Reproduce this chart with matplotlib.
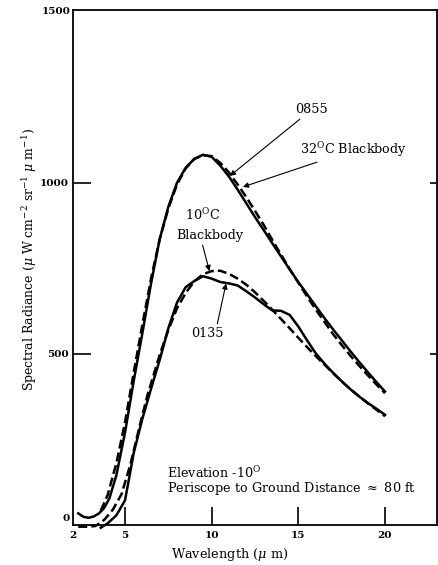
import matplotlib
matplotlib.use("Agg")
import matplotlib.pyplot as plt

# Spectral radiance curves (wavelength in um, radiance in uW cm^-2 sr^-1 um^-1)
wl_0855 = [2.3, 2.6, 2.9, 3.2, 3.5, 3.8, 4.1, 4.5, 5.0, 5.5, 6.0, 6.5, 7.0, 7.5,
           8.0, 8.5, 9.0, 9.5, 10.0, 10.5, 11.0, 11.5, 12.0, 12.5, 13.0, 13.5,
           14.0, 14.5, 15.0, 15.5, 16.0, 16.5, 17.0, 17.5, 18.0, 18.5, 19.0,
           19.5, 20.0]
rad_0855 = [34, 24, 21, 25, 34, 50, 78, 145, 270, 420, 560, 705, 835, 930,
            1000, 1044, 1070, 1082, 1076, 1050, 1018, 980, 940, 900, 862, 823,
            785, 747, 710, 675, 640, 605, 572, 540, 508, 477, 447,
            418, 390]

wl_bb32 = [3.6, 4.0, 4.5, 5.0, 5.5, 6.0, 6.5, 7.0, 7.5, 8.0, 8.5, 9.0, 9.5,
           10.0, 10.5, 11.0, 11.5, 12.0, 12.5, 13.0, 13.5, 14.0, 14.5, 15.0,
           15.5, 16.0, 16.5, 17.0, 17.5, 18.0, 18.5, 19.0, 19.5, 20.0]
rad_bb32 = [42, 88, 180, 300, 445, 585, 720, 835, 925, 995, 1042, 1070, 1080,
            1078, 1058, 1030, 995, 958, 918, 877, 833, 790, 748, 708,
            668, 630, 594, 558, 526, 495, 466, 438, 411, 385]

wl_bb10 = [2.3, 2.8, 3.3, 3.8, 4.3, 4.8, 5.3, 5.8, 6.3, 7.0, 7.5, 8.0, 8.5,
           9.0, 9.5, 10.0, 10.5, 11.0, 11.5, 12.0, 12.5, 13.0, 13.5, 14.0,
           14.5, 15.0, 15.5, 16.0, 16.5, 17.0, 17.5, 18.0, 18.5, 19.0, 19.5,
           20.0]
rad_bb10 = [-5, -5, -3, 15, 45, 90, 175, 280, 380, 497, 570, 633, 678,
            712, 733, 742, 743, 734, 720, 702, 680, 655, 629, 602,
            575, 547, 520, 494, 469, 444, 420, 397, 376, 356, 337,
            318]

wl_0135 = [3.6, 4.0, 4.5, 5.0, 5.25, 5.5, 6.0, 6.5, 7.0, 7.5, 8.0, 8.5, 9.0,
           9.5, 10.0, 10.5, 11.0, 11.5, 12.0, 12.5, 13.0, 13.5, 14.0, 14.5,
           15.0, 15.5, 16.0, 16.5, 17.0, 17.5, 18.0, 18.5, 19.0, 19.5, 20.0]
rad_0135 = [-8, 5, 28, 72, 140, 210, 310, 398, 482, 575, 650, 695, 713,
            727, 720, 710, 706, 700, 683, 665, 645, 627, 626, 614,
            580, 540, 502, 472, 445, 420, 397, 376, 357, 340, 322]

xtick_vals = [2, 5, 10, 15, 20]
ytick_vals = [500, 1000]

plt.rcParams["font.family"] = ["DejaVu Serif"]
plt.rcParams["mathtext.fontset"] = "dejavuserif"

fig = plt.figure(figsize=(4.38, 5.65), dpi=100)
ax = fig.add_axes([73 / 438, 1 - 525 / 565, 364 / 438, 515 / 565])
ax.set_xlim(2, 23)
ax.set_ylim(0, 1505)

lw = 1.8
dash = (3.6, 1.6)
ax.plot(wl_0855, rad_0855, color="black", lw=lw, clip_on=False)
ax.plot(wl_bb32, rad_bb32, color="black", lw=lw, dashes=dash, clip_on=False)
ax.plot(wl_bb10, rad_bb10, color="black", lw=lw, dashes=dash, clip_on=False)
ax.plot(wl_0135, rad_0135, color="black", lw=lw, clip_on=False)

for s in ax.spines.values():
    s.set_linewidth(1.3)
    s.set_color("black")

ax.set_xticks(xtick_vals)
ax.set_xticklabels([str(v) for v in xtick_vals], fontsize=7.5, fontweight="bold")
ax.xaxis.get_major_ticks()[0].tick1line.set_visible(False)
ax.tick_params(axis="x", direction="in", length=13, width=1.2, pad=4)

ax.set_yticks(ytick_vals)
ax.set_yticklabels([str(v) for v in ytick_vals], fontsize=7.5, fontweight="bold")
ax.tick_params(axis="y", direction="in", length=13, width=1.2, pad=3,
               right=True)
for t in ax.yaxis.get_major_ticks():
    t.tick2line.set_markersize(5)

ytr = ax.get_yaxis_transform()
ax.text(-0.008, 18, "0", transform=ytr, ha="right", va="center",
        fontsize=7.5, fontweight="bold")
ax.text(-0.008, 1500, "1500", transform=ytr, ha="right", va="center",
        fontsize=7.5, fontweight="bold")

ax.set_xlabel(r"Wavelength ($\mu$ m)", fontsize=9.3)
ax.xaxis.set_label_coords((230 - 73) / 364, -0.041)
ax.set_ylabel(r"Spectral Radiance ($\mu$ W cm$^{-2}$ sr$^{-1}$ $\mu$ m$^{-1}$)",
              fontsize=9)
ax.yaxis.set_label_coords(-0.093, 0.515)

arrow = dict(arrowstyle="-|>", color="black", lw=0.8,
             mutation_scale=8, shrinkA=0, shrinkB=0)
fs = 9.2
ax.annotate("0855", xy=(11.05, 1020), xytext=(14.8, 1213),
            ha="left", va="center", fontsize=fs, arrowprops=arrow)
ax.annotate(r"32$^{\rm O}$C Blackbody", xy=(11.8, 988), xytext=(15.1, 1096),
            ha="left", va="center", fontsize=fs, arrowprops=arrow)
ax.text(9.5, 906, r"10$^{\rm O}$C", ha="center", va="center", fontsize=fs)
ax.annotate("Blackbody", xy=(9.87, 742), xytext=(9.9, 845),
            ha="center", va="center", fontsize=fs,
            arrowprops=dict(arrow, relpos=(0.38, 0.0)))
ax.annotate("0135", xy=(10.83, 706), xytext=(9.73, 561),
            ha="center", va="center", fontsize=fs,
            arrowprops=dict(arrow, relpos=(0.8, 1.0)))

ax.text(7.42, 152, r"Elevation -10$^{\rm O}$", ha="left", va="center", fontsize=fs)
ax.text(7.42, 108, r"Periscope to Ground Distance $\approx$ 80 ft",
        ha="left", va="center", fontsize=fs)

fig.savefig("out.png", dpi=100)
